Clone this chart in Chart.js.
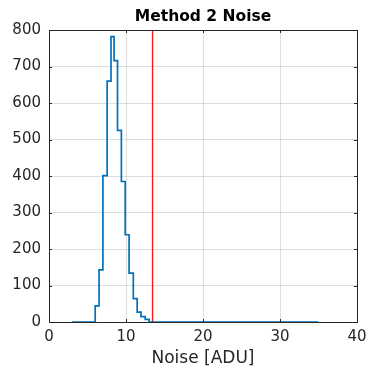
<!DOCTYPE html>
<html>
<head>
<meta charset="utf-8">
<script src="https://cdn.jsdelivr.net/npm/chart.js@4/dist/chart.umd.min.js"></script>
<style>
html,body{margin:0;padding:0;background:#fff;}
#wrap{width:369px;height:369px;}
</style>
</head>
<body>
<div id="wrap"><canvas id="c" width="369" height="369"></canvas></div>
<script>
// Histogram bin edges (ADU) and counts
const binEdges = [3, 6, 6.5, 7, 7.55, 8.05, 8.45, 8.9, 9.4, 9.9, 10.4, 10.95, 11.45, 11.95, 12.5, 13.0, 35];
const counts   = [0, 44, 143, 401, 660, 782, 716, 525, 385, 239, 134, 64, 27, 15, 7, 0];
const thresholdX = 13.45;
const xTicks = [0, 10, 20, 30, 40];
const yTicks = [0, 100, 200, 300, 400, 500, 600, 700, 800];

const histPoints = binEdges.map((e, i) => ({x: e, y: i < counts.length ? counts[i] : 0}));
const linePoints = [{x: thresholdX, y: 0}, {x: thresholdX, y: 800}];

const axisColor = '#262626';
const fontFam = '"DejaVu Sans", Verdana, sans-serif';

const boxPlugin = {
  id: 'boxPlugin',
  afterDatasetsDraw(chart) {
    const {ctx, chartArea: a, scales} = chart;
    ctx.save();
    ctx.strokeStyle = axisColor;
    ctx.lineWidth = 1;
    ctx.strokeRect(Math.round(a.left) + 0.5, Math.round(a.top) + 0.5, Math.round(a.right - a.left), Math.round(a.bottom - a.top));
    // inner ticks
    const tl = 3;
    xTicks.forEach(v => {
      const px = Math.round(scales.x.getPixelForValue(v)) + 0.5;
      ctx.beginPath();
      ctx.moveTo(px, a.bottom); ctx.lineTo(px, a.bottom - tl);
      ctx.moveTo(px, a.top); ctx.lineTo(px, a.top + tl);
      ctx.stroke();
    });
    yTicks.forEach(v => {
      const py = Math.round(scales.y.getPixelForValue(v)) + 0.5;
      ctx.beginPath();
      ctx.moveTo(a.left, py); ctx.lineTo(a.left + tl, py);
      ctx.moveTo(a.right, py); ctx.lineTo(a.right - tl, py);
      ctx.stroke();
    });
    ctx.restore();
  }
};

new Chart(document.getElementById('c'), {
  type: 'line',
  data: {
    datasets: [
      {
        data: histPoints,
        stepped: 'before',
        borderColor: '#0072BD',
        borderWidth: 1.7,
        pointRadius: 0,
        fill: false,
        clip: false
      },
      {
        data: linePoints,
        borderColor: '#ff1a1a',
        borderWidth: 1.4,
        pointRadius: 0,
        fill: false
      }
    ]
  },
  options: {
    responsive: false,
    animation: false,
    devicePixelRatio: 1,
    layout: {padding: {left: 0, right: 12, top: 0, bottom: 0}},
    plugins: {
      legend: {display: false},
      tooltip: {enabled: false},
      title: {
        display: true,
        text: 'Method 2 Noise',
        fullSize: false,
        color: '#000',
        font: {family: fontFam, size: 15.5, weight: 'bold', lineHeight: 1.2},
        padding: {top: 8, bottom: 3.4}
      }
    },
    scales: {
      x: {
        type: 'linear',
        min: 0, max: 40,
        afterFit(s) { s.height = 47; s.paddingLeft = 0; s.paddingRight = 0; },
        afterBuildTicks(s) { s.ticks = xTicks.map(v => ({value: v})); },
        ticks: {color: axisColor, font: {family: fontFam, size: 15}, padding: 6, maxRotation: 0},
        grid: {color: 'rgba(0,0,0,0.13)', drawTicks: false},
        border: {display: false},
        title: {display: true, text: 'Noise [ADU]', color: axisColor, font: {family: fontFam, size: 17}, padding: {top: 2, bottom: 0}}
      },
      y: {
        type: 'linear',
        min: 0, max: 800,
        afterFit(s) { s.width = 49; s.paddingTop = 0; s.paddingBottom = 0; },
        afterBuildTicks(s) { s.ticks = yTicks.map(v => ({value: v})); },
        ticks: {color: axisColor, font: {family: fontFam, size: 15}, padding: 8},
        grid: {color: 'rgba(0,0,0,0.13)', drawTicks: false},
        border: {display: false}
      }
    }
  },
  plugins: [boxPlugin]
});
</script>
</body>
</html>
